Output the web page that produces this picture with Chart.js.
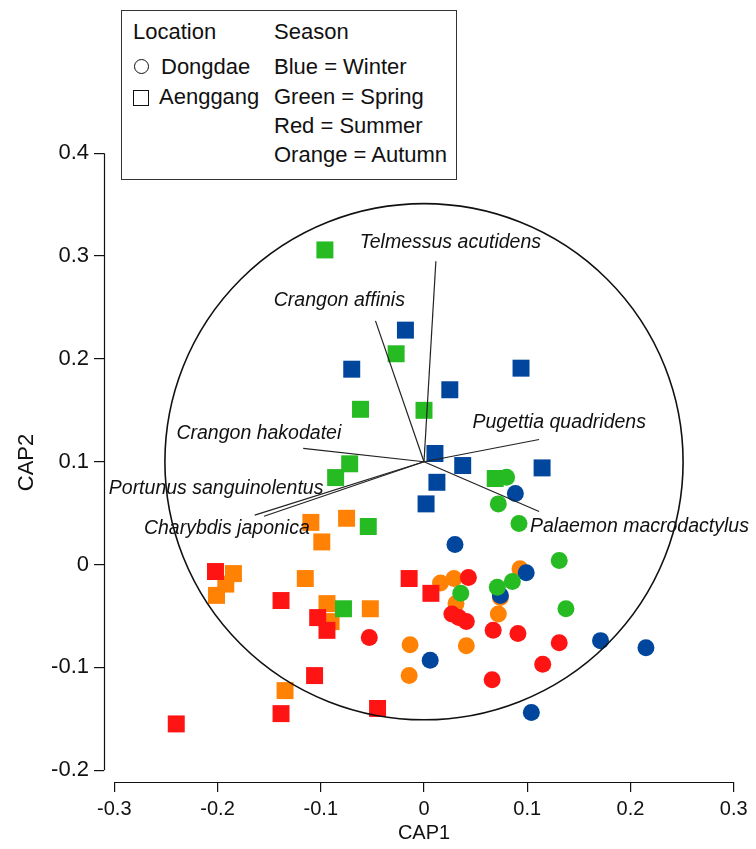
<!DOCTYPE html>
<html>
<head>
<meta charset="utf-8">
<script src="https://cdn.jsdelivr.net/npm/chart.js@4.4.1/dist/chart.umd.min.js"></script>
<style>
  body { margin: 0; background: #fff; }
  #wrap { position: relative; width: 756px; height: 849px; }
  #legendBox {
    position: absolute; left: 121px; top: 10px; width: 334px; height: 168px;
    border: 1.5px solid #333; background: #fff;
    font: 22px "Liberation Sans", Arial, sans-serif; color: #111;
  }
  #legendBox .t { position: absolute; line-height: 26px; white-space: nowrap; }
  #legendBox .circ { position: absolute; width: 13px; height: 13px; border: 1.5px solid #111; border-radius: 50%; }
  #legendBox .sq { position: absolute; width: 14px; height: 14px; border: 1.5px solid #111; }
</style>
</head>
<body>
<div id="wrap">
  <canvas id="grafico"></canvas>
  <div id="legendBox">
    <div class="t" style="left:11px; top:8px">Location</div>
    <div class="t" style="left:152px; top:8px">Season</div>
    <div class="circ" style="left:12px; top:48px"></div>
    <div class="t" style="left:39px; top:43px">Dongdae</div>
    <div class="t" style="left:152px; top:43px">Blue = Winter</div>
    <div class="sq" style="left:11px; top:79px"></div>
    <div class="t" style="left:37px; top:73px">Aenggang</div>
    <div class="t" style="left:152px; top:73px">Green = Spring</div>
    <div class="t" style="left:152px; top:102px">Red = Summer</div>
    <div class="t" style="left:152px; top:131px">Orange = Autumn</div>
  </div>
</div>
<script>
// ---- data (CAP1, CAP2) ----
const dongdaeWinter = [[0.030, 0.0195], [0.0885, 0.069], [0.099, -0.008], [0.074, -0.030],
  [0.006, -0.093], [0.171, -0.074], [0.215, -0.081], [0.104, -0.144]];
const dongdaeSpring = [[0.080, 0.085], [0.072, 0.059], [0.092, 0.040], [0.131, 0.004],
  [0.071, -0.022], [0.0856, -0.0165], [0.0356, -0.028], [0.1375, -0.043]];
const dongdaeSummer = [[0.043, -0.0126], [0.027, -0.048], [0.0337, -0.0516], [0.041, -0.0555],
  [0.067, -0.064], [0.091, -0.067], [0.131, -0.076], [0.115, -0.097], [0.066, -0.112], [-0.053, -0.071]];
const dongdaeAutumn = [[0.016, -0.018], [0.029, -0.0136], [0.031, -0.038], [0.093, -0.004],
  [0.074, -0.032], [0.072, -0.048], [-0.0135, -0.078], [0.041, -0.079], [-0.0144, -0.108]];

const aenggangWinter = [[-0.018, 0.228], [-0.070, 0.190], [0.094, 0.191], [0.025, 0.170],
  [0.0106, 0.108], [0.0375, 0.0963], [0.0125, 0.080], [0.002, 0.059], [0.1144, 0.094]];
const aenggangSpring = [[-0.096, 0.306], [-0.027, 0.205], [-0.0615, 0.151], [0.0, 0.150],
  [-0.072, 0.098], [-0.0856, 0.0846], [-0.054, 0.037], [0.069, 0.0837], [-0.078, -0.043]];
const aenggangSummer = [[-0.202, -0.0068], [-0.1385, -0.035], [-0.103, -0.0516], [-0.094, -0.064],
  [-0.106, -0.108], [-0.1385, -0.145], [-0.240, -0.155], [-0.045, -0.140], [-0.0144, -0.0136], [0.0067, -0.028]];
const aenggangAutumn = [[-0.1096, 0.041], [-0.075, 0.045], [-0.099, 0.022], [-0.1846, -0.0088],
  [-0.192, -0.019], [-0.201, -0.030], [-0.115, -0.0136], [-0.094, -0.038], [-0.090, -0.0555],
  [-0.052, -0.043], [-0.1346, -0.1226]];

// species vectors
const speciesNames = ['Telmessus acutidens', 'Crangon affinis', 'Crangon hakodatei',
  'Portunus sanguinolentus', 'Charybdis japonica', 'Pugettia quadridens', 'Palaemon macrodactylus'];
const vectorOrigin = [0, 0.1];
const vectorEndX = [0.0115, -0.047, -0.117, -0.155, -0.164, 0.1115, 0.1115];
const vectorEndY = [0.295, 0.237, 0.113, 0.047, 0.048, 0.1216, 0.0516];
const circleRadius = 0.251;

// axes
const xTicks = [-0.3, -0.2, -0.1, 0, 0.1, 0.2, 0.3];
const xTickLabels = ['-0.3', '-0.2', '-0.1', '0', '0.1', '0.2', '0.3'];
const yTicks = [-0.2, -0.1, 0, 0.1, 0.2, 0.3, 0.4];
const yTickLabels = ['-0.2', '-0.1', '0', '0.1', '0.2', '0.3', '0.4'];

// ---- layout / style ----
const fuente = '"Liberation Sans", Arial, Helvetica, sans-serif';
const colores = { winter: '#00469c', spring: '#26bb22', summer: '#ff1414', autumn: '#ff8205' };
// centre of each species label, in data units
const labelPos = [[0.0255, 0.313], [-0.082, 0.257], [-0.160, 0.127], [-0.2014, 0.074],
  [-0.191, 0.035], [0.131, 0.138], [0.2087, 0.037]];

const toXY = arr => arr.map(([x, y]) => ({ x, y }));

function puntos(data, color, estilo, orden) {
  return {
    data: toXY(data),
    backgroundColor: color,
    borderWidth: 0,
    pointStyle: estilo,
    pointRadius: estilo === 'rect' ? 12 : 8.5,
    order: orden,
    clip: false
  };
}

const datasets = [
  puntos(aenggangAutumn, colores.autumn, 'rect', 8),
  puntos(dongdaeAutumn, colores.autumn, 'circle', 7),
  puntos(aenggangWinter, colores.winter, 'rect', 6),
  puntos(dongdaeWinter, colores.winter, 'circle', 5),
  puntos(aenggangSummer, colores.summer, 'rect', 4),
  puntos(dongdaeSummer, colores.summer, 'circle', 3),
  puntos(aenggangSpring, colores.spring, 'rect', 2),
  puntos(dongdaeSpring, colores.spring, 'circle', 1)
];

speciesNames.forEach((name, i) => {
  datasets.push({
    label: name,
    data: [{ x: vectorOrigin[0], y: vectorOrigin[1] }, { x: vectorEndX[i], y: vectorEndY[i] }],
    showLine: true,
    borderColor: '#222',
    borderWidth: 1.2,
    pointRadius: 0,
    order: 0,
    clip: false
  });
});

const ordinacion = {
  id: 'ordinacion',
  beforeDatasetsDraw(chart) {
    const { ctx, chartArea } = chart;
    const sx = chart.scales.x, sy = chart.scales.y;
    ctx.save();
    ctx.strokeStyle = '#111';
    ctx.lineWidth = 1.2;
    const ax = Math.round(chartArea.left) + 0.5;
    const ay = Math.round(chartArea.bottom) + 0.5;
    ctx.beginPath();
    ctx.moveTo(ax, sy.getPixelForValue(yTicks[0]));
    ctx.lineTo(ax, sy.getPixelForValue(yTicks[yTicks.length - 1]));
    ctx.moveTo(sx.getPixelForValue(xTicks[0]), ay);
    ctx.lineTo(sx.getPixelForValue(xTicks[xTicks.length - 1]), ay);
    ctx.stroke();
    ctx.restore();
  },
  afterDatasetsDraw(chart) {
    const { ctx } = chart;
    const sx = chart.scales.x, sy = chart.scales.y;
    const cx = sx.getPixelForValue(vectorOrigin[0]);
    const cy = sy.getPixelForValue(vectorOrigin[1]);
    const rx = sx.getPixelForValue(vectorOrigin[0] + circleRadius) - cx;
    const ry = cy - sy.getPixelForValue(vectorOrigin[1] + circleRadius);
    ctx.save();
    ctx.strokeStyle = '#111';
    ctx.lineWidth = 1.6;
    ctx.beginPath();
    ctx.ellipse(cx, cy, rx, ry, 0, 0, Math.PI * 2);
    ctx.stroke();

    ctx.fillStyle = '#111';
    ctx.font = 'italic 19.5px ' + fuente;
    ctx.textAlign = 'center';
    ctx.textBaseline = 'middle';
    speciesNames.forEach((name, i) => {
      ctx.fillText(name, sx.getPixelForValue(labelPos[i][0]), sy.getPixelForValue(labelPos[i][1]));
    });
    ctx.restore();
  }
};

function eje(ticks, labels, min, max, titulo, tamano, letra, tituloPadding) {
  return {
    type: 'linear',
    min: min,
    max: max,
    afterBuildTicks: s => { s.ticks = ticks.map(v => ({ value: v })); },
    afterFit: s => {
      if (s.isHorizontal()) s.height = tamano; else s.width = tamano;
      s.paddingLeft = 0; s.paddingRight = 0; s.paddingTop = 0; s.paddingBottom = 0;
    },
    ticks: {
      callback: (v, i) => labels[i],
      font: { family: fuente, size: letra },
      color: '#111',
      padding: 5,
      autoSkip: false,
      maxRotation: 0
    },
    grid: { drawOnChartArea: false, drawTicks: true, tickLength: 10, color: '#111', lineWidth: 1.2 },
    border: { display: false },
    title: { display: true, text: titulo, color: '#111', font: { family: fuente, size: letra }, padding: tituloPadding }
  };
}

new Chart(document.getElementById('grafico'), {
  type: 'scatter',
  data: { datasets },
  options: {
    responsive: true,
    maintainAspectRatio: false,
    animation: false,
    events: [],
    layout: { padding: { top: 143, right: 6, left: 0, bottom: 0 } },
    plugins: { legend: { display: false }, tooltip: { enabled: false } },
    scales: {
      x: eje(xTicks, xTickLabels, -0.31, 0.31, 'CAP1', 67, 20, { top: 0, bottom: 4 }),
      y: eje(yTicks, yTickLabels, -0.2115, 0.41, 'CAP2', 104, 22, { top: 14, bottom: 0 })
    }
  },
  plugins: [ordinacion]
});
</script>
</body>
</html>
